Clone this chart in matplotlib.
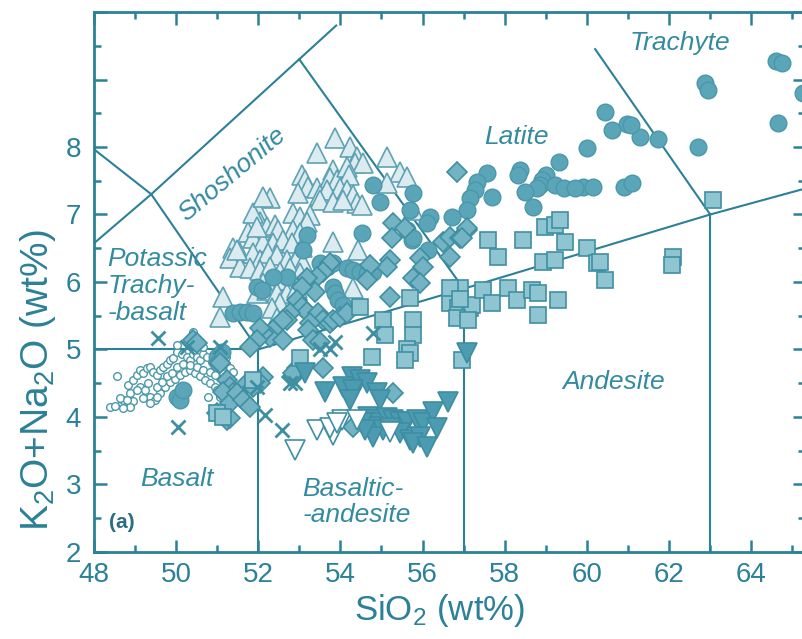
import matplotlib
matplotlib.use('Agg')
import matplotlib.pyplot as plt

plt.rcParams['font.family'] = ['Liberation Sans', 'DejaVu Sans']
plt.rcParams['mathtext.default'] = 'regular'

teal = '#2b8197'
teal_txt = '#338ba0'

# --- datos (SiO2, K2O+Na2O) ---
# circulos pequenos abiertos
small_x = [48.40, 48.52, 48.68, 48.72, 48.64, 48.56, 48.96, 48.88, 48.84, 48.96, 49.05, 49.13, 49.21, 49.29,
           49.37, 49.45, 49.53, 49.61, 49.69, 49.78, 49.86, 49.94, 50.02, 50.14, 50.26, 50.34, 50.42, 50.51,
           50.59, 50.67, 50.75, 50.87, 50.99, 51.07, 51.15, 51.23, 51.32, 51.40, 49.13, 49.25, 49.37, 49.49,
           49.61, 49.74, 49.86, 49.98, 50.10, 50.22, 50.34, 50.46, 50.59, 50.71, 50.83, 50.95, 49.05, 49.33,
           49.53, 49.65, 49.78, 49.90, 50.02, 50.18, 50.34, 50.51, 50.67, 50.83, 50.95, 50.99, 51.07, 49.21,
           49.37, 49.53, 48.88, 48.72, 48.80, 50.02, 50.67, 51.23, 50.79, 50.42]
small_y = [4.15, 4.17, 4.20, 4.25, 4.28, 4.60, 4.23, 4.35, 4.47, 4.55, 4.62, 4.70, 4.65, 4.72,
           4.74, 4.67, 4.62, 4.70, 4.74, 4.79, 4.84, 4.87, 4.97, 4.94, 4.89, 4.84, 4.94, 4.89,
           4.84, 4.94, 4.89, 4.82, 4.74, 4.70, 4.65, 4.79, 4.72, 4.67, 4.45, 4.40, 4.30, 4.25,
           4.35, 4.45, 4.52, 4.57, 4.62, 4.67, 4.70, 4.65, 4.60, 4.55, 4.50, 4.45, 4.40, 4.50,
           4.45, 4.52, 4.60, 4.65, 4.74, 4.79, 4.77, 4.74, 4.70, 4.67, 4.62, 4.40, 4.30, 4.28,
           4.20, 4.30, 4.15, 4.13, 4.25, 5.06, 5.04, 4.89, 4.30, 5.26]

# circulos rellenos
circ_x = [64.60, 64.75, 65.25, 64.65, 62.87, 62.95, 62.70, 61.74, 61.28, 60.98, 61.07, 60.45, 60.60, 60.00,
          59.90, 60.15, 60.90, 61.10, 59.33, 59.00, 58.90, 58.85, 58.78, 58.37, 58.33, 58.50, 58.70, 59.23,
          59.45, 59.72, 57.57, 57.33, 57.28, 57.16, 57.70, 57.08, 56.72, 56.18, 56.10, 55.78, 55.63, 55.75,
          56.14, 54.80, 54.97, 55.70, 55.78, 54.53, 53.20, 53.10, 53.50, 53.68, 53.83, 54.17, 54.31, 54.48,
          54.65, 54.80, 52.70, 51.98, 52.10, 53.83, 53.87, 53.95, 54.07, 51.40, 51.57, 51.73, 51.88, 52.37,
          51.00, 51.03, 50.03, 50.10, 50.18, 51.12]
circ_y = [9.28, 9.24, 8.80, 8.35, 8.95, 8.85, 8.00, 8.12, 8.15, 8.34, 8.33, 8.52, 8.25, 7.99,
          7.40, 7.40, 7.41, 7.47, 7.78, 7.59, 7.51, 7.44, 7.39, 7.66, 7.59, 7.33, 7.11, 7.44,
          7.39, 7.39, 7.61, 7.48, 7.36, 7.24, 7.26, 7.07, 6.96, 6.96, 6.87, 7.32, 6.77, 6.62,
          6.47, 7.44, 7.19, 7.07, 6.65, 6.73, 6.70, 6.47, 6.28, 6.22, 6.28, 6.21, 6.18, 6.15,
          6.13, 6.15, 6.07, 5.93, 5.88, 5.93, 5.84, 5.73, 5.66, 5.54, 5.56, 5.56, 5.54, 6.07,
          4.89, 4.80, 4.30, 4.25, 4.40, 4.96]

# triangulos claros
tri_x = [53.87, 54.24, 54.40, 54.36, 54.55, 55.13, 55.45, 55.62, 55.13, 53.44, 53.07, 53.14, 53.22, 53.83,
         53.76, 53.92, 54.17, 54.20, 53.44, 53.51, 53.68, 54.00, 54.17, 54.31, 54.41, 54.53, 53.51, 53.83,
         54.07, 52.30, 52.98, 52.00, 52.86, 53.03, 53.27, 53.19, 52.05, 52.22, 52.41, 52.49, 52.86, 53.03,
         51.76, 51.88, 52.12, 52.37, 52.61, 52.83, 53.07, 53.83, 54.43, 51.40, 51.57, 51.32, 51.88, 52.05,
         52.25, 52.46, 52.70, 52.95, 53.10, 51.57, 51.80, 52.05, 52.30, 52.54, 52.78, 53.03, 52.12, 52.37,
         52.61, 51.98, 52.22, 52.46, 52.70, 52.95, 52.54, 52.34, 54.31, 52.46, 51.15, 51.08, 51.49, 51.88,
         52.12, 51.98, 55.78]
tri_y = [8.13, 8.00, 7.85, 7.76, 7.76, 7.85, 7.63, 7.56, 7.47, 7.91, 7.59, 7.51, 7.41, 7.66,
         7.54, 7.51, 7.70, 7.59, 7.39, 7.29, 7.36, 7.39, 7.36, 7.29, 7.17, 7.14, 7.21, 7.19,
         7.21, 7.24, 7.32, 7.07, 7.02, 6.96, 6.99, 6.89, 6.89, 6.81, 6.84, 6.77, 6.77, 6.73,
         6.74, 6.65, 6.59, 6.58, 6.62, 6.58, 6.52, 6.59, 6.47, 6.50, 6.43, 6.36, 6.43, 6.33,
         6.43, 6.40, 6.33, 6.36, 6.28, 6.22, 6.21, 6.18, 6.22, 6.15, 6.21, 6.13, 5.99, 6.00,
         6.03, 5.84, 5.88, 5.84, 5.84, 5.91, 5.69, 5.61, 5.91, 5.47, 5.78, 5.48, 6.47, 7.02,
         7.26, 6.81, 7.07]

# rombos
dia_x = [56.84, 55.29, 55.26, 55.58, 56.50, 56.67, 56.92, 57.09, 56.67, 55.94, 56.02, 55.78, 55.94, 55.21,
         55.14, 54.73, 54.65, 55.21, 53.76, 53.58, 53.44, 53.39, 53.19, 53.07, 52.95, 53.07, 53.19, 53.46,
         53.58, 53.76, 52.78, 52.70, 53.27, 53.22, 53.34, 53.51, 53.83, 54.00, 54.17, 52.61, 52.37, 52.30,
         52.12, 52.61, 52.05, 51.98, 51.80, 52.95, 52.83, 53.58, 55.29, 54.31, 51.24, 52.12, 52.05, 51.08,
         51.24, 51.32, 50.42, 50.52, 51.00, 51.32, 51.40, 51.57, 51.15, 51.32, 51.49, 51.73, 51.88, 51.64,
         51.80, 52.86, 57.08, 56.97]
dia_y = [7.63, 6.87, 6.65, 6.80, 6.59, 6.67, 6.65, 6.77, 6.37, 6.36, 6.22, 6.06, 5.99, 6.33,
         6.22, 6.25, 6.03, 5.78, 6.28, 6.15, 6.07, 5.85, 6.06, 5.93, 5.73, 5.63, 5.56, 5.54,
         5.44, 5.39, 5.54, 5.44, 5.39, 5.29, 5.14, 5.11, 5.44, 5.48, 5.54, 5.44, 5.29, 5.19,
         5.24, 5.14, 5.32, 5.14, 5.04, 4.73, 4.59, 4.73, 4.36, 3.85, 3.96, 4.59, 4.50, 4.80,
         4.55, 4.44, 5.14, 5.10, 4.06, 3.99, 4.36, 4.30, 4.37, 4.21, 4.36, 4.50, 4.44, 4.25,
         4.15, 4.65, 6.80, 6.65]

# cuadrados
sq_x = [57.60, 58.45, 58.98, 59.22, 59.35, 59.47, 57.84, 60.00, 58.94, 59.22, 60.25, 60.33, 60.45, 62.10,
        62.07, 56.72, 56.92, 56.67, 56.87, 57.16, 57.21, 56.84, 57.11, 57.47, 57.69, 58.08, 58.30, 58.66,
        58.81, 59.30, 58.81, 56.96, 55.70, 55.78, 55.78, 55.63, 55.70, 63.07, 55.04, 55.09, 55.58, 54.77,
        54.48, 53.03, 51.88, 51.00, 51.15, 56.67, 56.90]
sq_y = [6.62, 6.62, 6.81, 6.84, 6.92, 6.59, 6.37, 6.50, 6.30, 6.33, 6.28, 6.30, 6.03, 6.37,
        6.25, 5.88, 5.91, 5.69, 5.61, 5.61, 5.66, 5.47, 5.44, 5.88, 5.69, 5.91, 5.73, 5.88,
        5.84, 5.73, 5.51, 4.84, 5.76, 5.44, 5.21, 5.00, 4.95, 7.21, 5.44, 5.21, 4.84, 4.89,
        5.63, 4.87, 4.55, 4.06, 4.00, 5.91, 5.75]

# triangulos invertidos rellenos
inv_x = [57.09, 53.63, 54.29, 54.48, 54.65, 54.07, 54.31, 54.24, 53.14, 54.90, 54.97, 54.68, 54.85, 54.97,
         55.14, 55.29, 55.46, 54.80, 55.04, 55.21, 55.63, 55.87, 56.02, 55.46, 55.70, 55.94, 55.78, 56.11,
         56.26, 56.36, 56.63, 54.80, 54.53, 54.60]
inv_y = [4.95, 4.37, 4.59, 4.55, 4.50, 4.44, 4.40, 4.25, 4.65, 4.36, 4.25, 4.00, 3.96, 3.91,
         3.99, 3.96, 3.93, 3.85, 3.81, 3.84, 3.93, 3.96, 3.91, 3.76, 3.66, 3.70, 3.61, 3.56,
         4.07, 3.84, 4.22, 3.70, 3.91, 3.81]

# triangulos invertidos abiertos
oinv_x = [53.44, 53.83, 54.05, 54.41, 53.75, 52.90, 55.21, 53.92]
oinv_y = [3.81, 3.73, 3.96, 3.96, 3.84, 3.51, 3.78, 3.91]

# cruces
cx_x = [49.57, 50.05, 50.27, 51.08, 54.80, 53.87, 53.75, 53.51, 52.90, 52.17, 52.58, 52.78, 51.98]
cx_y = [5.17, 3.85, 5.04, 5.04, 5.25, 5.11, 5.00, 5.00, 4.50, 4.03, 3.81, 4.50, 4.44]

# limites del diagrama TAS
lineas = [
    ([48, 52], [5, 5]),
    ([52, 52], [2, 5]),
    ([52, 57, 63, 69], [5, 5.9, 7, 8]),
    ([57, 57], [2, 5.9]),
    ([63, 63], [2, 7]),
    ([57, 53], [5.9, 9.3]),
    ([63, 60.2], [7, 9.45]),
    ([52, 49.4, 48], [5, 7.3, 7.97]),
    ([48, 49.4, 53, 53.9], [6.57, 7.3, 9.3, 9.8]),
]

fig = plt.figure(figsize=(8.03, 6.39), dpi=100)
ax = fig.add_axes([0.1167, 0.1362, 0.8855, 0.845])

for lx, ly in lineas:
    ax.plot(lx, ly, color=teal, lw=1.5, zorder=2)

ax.plot(tri_x, tri_y, '^', ms=14, mfc='#dcebef', mec='#5ea3b5', mew=1.2, ls='none', zorder=3)
ax.plot(small_x, small_y, 'o', ms=5.5, mfc='white', mec='#4a98ab', mew=1.0, ls='none', zorder=4)
ax.plot(circ_x, circ_y, 'o', ms=12, mfc='#5aa5b7', mec='#4a98ab', mew=1.0, ls='none', zorder=4)
ax.plot(dia_x, dia_y, 'D', ms=10, mfc='#73b3c3', mec='#3f8fa3', mew=1.2, ls='none', zorder=5)
ax.plot(sq_x, sq_y, 's', ms=11, mfc='#8fc5d1', mec='#3f8fa3', mew=1.2, ls='none', zorder=5)
ax.plot(inv_x, inv_y, 'v', ms=14, mfc='#4d9bb0', mec='#3d8ea3', mew=1.2, ls='none', zorder=6)
ax.plot(oinv_x, oinv_y, 'v', ms=14, mfc='white', mec='#3f8fa3', mew=1.2, ls='none', zorder=6)
ax.plot(cx_x, cx_y, 'x', ms=10, mec='#3f8fa3', mew=2, ls='none', zorder=6)

ax.set_xlim(48, 65.3)
ax.set_ylim(2, 10)
ax.set_xticks(range(48, 66, 2))
ax.set_xticks(range(48, 66), minor=True)
ax.set_yticks(range(2, 11))
ax.set_yticklabels(['2', '3', '4', '5', '6', '7', '8', '', ''])
ax.set_yticks([2 + 0.5 * i for i in range(17)], minor=True)
ax.tick_params(which='both', direction='in', top=True, right=True, color=teal, width=1.8,
               labelsize=20, labelcolor=teal)
ax.tick_params(axis='x', pad=7)
ax.tick_params(axis='y', pad=9)
ax.tick_params(which='major', length=9)
ax.tick_params(which='minor', length=5)
for s in ax.spines.values():
    s.set_color(teal)
    s.set_linewidth(2)

fig.text(0.548, 0.045, 'SiO$_2$ (wt%)', fontsize=25, color=teal, ha='center', va='center')
fig.text(0.047, 0.405, 'K$_2$O+Na$_2$O (wt%)', fontsize=28, color=teal, ha='center', va='center',
         rotation=90)

kw = dict(fontsize=19, color=teal_txt, style='italic', ha='center', va='center')
ax.text(62.27, 9.54, 'Trachyte', **kw)
ax.text(58.28, 8.15, 'Latite', **kw)
ax.text(51.37, 7.59, 'Shoshonite', rotation=40, rotation_mode='anchor', **kw)
ax.text(48.33, 5.94, 'Potassic\nTrachy-\n-basalt', fontsize=19, color=teal_txt, style='italic',
        ha='left', va='center', linespacing=1.15)
ax.text(60.66, 4.52, 'Andesite', **kw)
ax.text(50.03, 3.08, 'Basalt', **kw)
ax.text(54.39, 2.74, 'Basaltic-\n-andesite', multialignment='left', linespacing=1.15, **kw)
ax.text(48.69, 2.43, '(a)', fontsize=15, color='#2b6f80', weight='bold', ha='center', va='center')

fig.savefig('out.png', dpi=100)
